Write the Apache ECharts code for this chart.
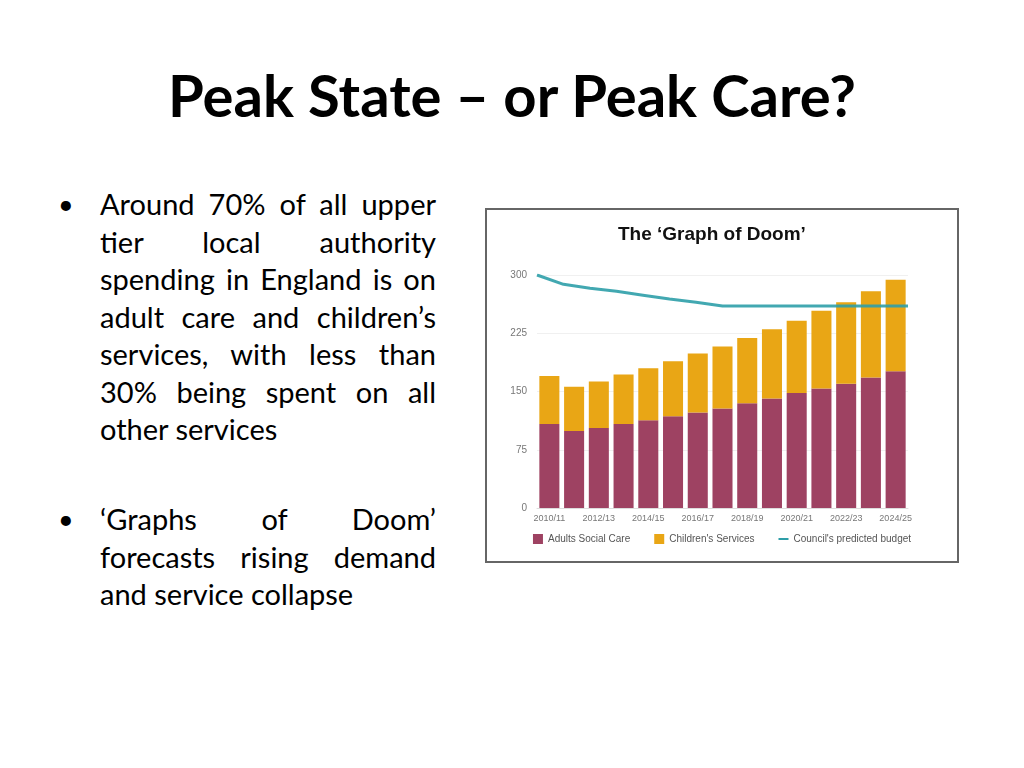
<!DOCTYPE html>
<html>
<head>
<meta charset="utf-8">
<script src="https://cdn.jsdelivr.net/npm/echarts@6/dist/echarts.min.js"></script>
<style>
  html, body { margin: 0; padding: 0; background: #fff; width: 1024px; height: 768px; overflow: hidden; }
  #title { position: absolute; left: 0; top: 60px; width: 1024px; text-align: center; font-family: Lato, "Open Sans", sans-serif; font-weight: 700; font-size: 58px; line-height: 70px; color: #000; }
  .para { position: absolute; left: 100px; width: 336px; font-family: Lato, "Open Sans", sans-serif; font-size: 29px; color: #000; }
  .para div { height: 37.5px; line-height: 37.5px; text-align: justify; text-align-last: justify; }
  .para div.last { text-align: left; text-align-last: left; }
  .bullet { position: absolute; left: 58px; font-family: Lato, "Open Sans", sans-serif; font-size: 27px; line-height: 37.5px; }
  #frame { position: absolute; left: 485px; top: 208px; width: 474px; height: 355px; box-sizing: border-box; border: 2px solid #666; background: #fff; }
  #chart { position: absolute; left: 0; top: 0; width: 470px; height: 351px; }
</style>
</head>
<body>
<div id="title">Peak State – or Peak Care?</div>
<div class="bullet" style="top:185px">•</div>
<div class="para" style="top:185px">
  <div>Around 70% of all upper</div>
  <div>tier local authority</div>
  <div>spending in England is on</div>
  <div>adult care and children’s</div>
  <div>services, with less than</div>
  <div>30% being spent on all</div>
  <div class="last">other services</div>
</div>
<div class="bullet" style="top:500px">•</div>
<div class="para" style="top:500px">
  <div>‘Graphs of Doom’</div>
  <div>forecasts rising demand</div>
  <div class="last">and service collapse</div>
</div>
<div id="frame"><div id="chart"></div></div>
<script>
const years = ['2010/11','2011/12','2012/13','2013/14','2014/15','2015/16','2016/17','2017/18','2018/19','2019/20','2020/21','2021/22','2022/23','2023/24','2024/25'];
const adultsSocialCare = [108, 99, 103, 108, 113, 118, 123, 128, 135, 141, 148, 154, 160, 168, 176];
const childrensServices = [62, 57, 60, 64, 67, 71, 76, 80, 84, 89, 93, 100, 105, 111, 118];
const predictedBudget = [300, 288, 283, 279, 274, 269, 265, 260, 260, 260, 260, 260, 260, 260, 260];
const yTicks = [0, 75, 150, 225, 300];

const chart = echarts.init(document.getElementById('chart'));
chart.setOption({
  animation: false,
  backgroundColor: '#fff',
  title: {
    text: 'The ‘Graph of Doom’',
    left: 126, top: 10,
    textStyle: { fontFamily: 'Liberation Sans, Arial, sans-serif', fontWeight: 'bold', fontSize: 19, color: '#111' }
  },
  legend: {
    bottom: 12, left: 'center',
    itemWidth: 10, itemHeight: 10, itemGap: 24,
    textStyle: { fontFamily: 'Liberation Sans, Arial, sans-serif', fontSize: 10, color: '#555' },
    data: [
      { name: 'Adults Social Care', icon: 'rect' },
      { name: "Children's Services", icon: 'rect' },
      { name: "Council's predicted budget", icon: 'path://M0,4 L10,4 L10,6 L0,6 Z', itemStyle: { color: '#2e9ea8' } }
    ]
  },
  grid: { left: 50, right: 49, top: 65, bottom: 53, containLabel: false },
  xAxis: [
    {
      type: 'category', data: years,
      axisLine: { show: true, lineStyle: { color: '#ddd' } },
      axisTick: { show: false },
      axisLabel: { interval: 1, fontSize: 9, color: '#777', margin: 6, fontFamily: 'Liberation Sans, Arial, sans-serif' }
    },
    {
      type: 'category', data: years, boundaryGap: false, show: false
    }
  ],
  yAxis: {
    type: 'value', min: 0, max: 300, interval: 75,
    axisLine: { show: false }, axisTick: { show: false },
    axisLabel: { fontSize: 10, color: '#777', margin: 10, fontFamily: 'Liberation Sans, Arial, sans-serif',
      formatter: v => yTicks.includes(v) ? String(v) : '' },
    splitLine: { lineStyle: { color: '#f0f0f0' } }
  },
  series: [
    { name: 'Adults Social Care', type: 'bar', stack: 'spend', data: adultsSocialCare, barCategoryGap: '19%', itemStyle: { color: '#9e4262' } },
    { name: "Children's Services", type: 'bar', stack: 'spend', data: childrensServices, itemStyle: { color: '#e9a615' } },
    { name: "Council's predicted budget", type: 'line', xAxisIndex: 1, data: predictedBudget, symbol: 'none',
      lineStyle: { color: '#2e9ea8', width: 3, opacity: 0.9 }, itemStyle: { color: '#2e9ea8' }, z: 5 }
  ]
});
</script>
</body>
</html>
